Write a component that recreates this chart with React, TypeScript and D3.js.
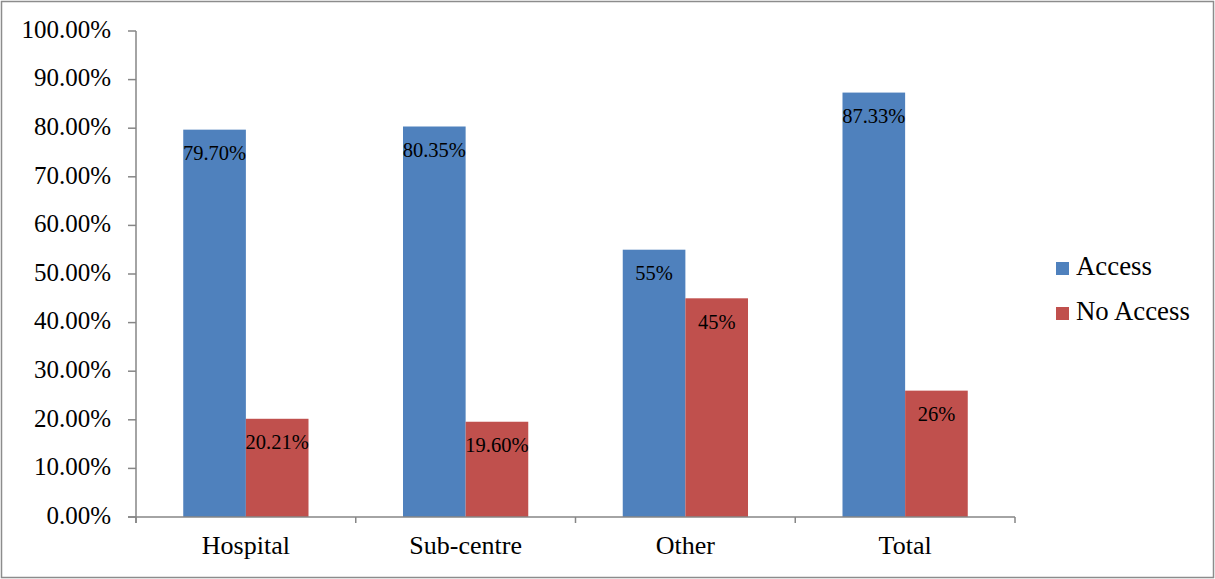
import React from "react";
import * as d3 from "d3";

const categories = ["Hospital", "Sub-centre", "Other", "Total"];
const seriesNames = ["Access", "No Access"];
const accessValues = [79.7, 80.35, 55, 87.33];
const noAccessValues = [20.21, 19.6, 45, 26];
const accessLabels = ["79.70%", "80.35%", "55%", "87.33%"];
const noAccessLabels = ["20.21%", "19.60%", "45%", "26%"];
const yTicks = [0, 10, 20, 30, 40, 50, 60, 70, 80, 90, 100];
const colors = ["#4F81BD", "#C0504D"];

const W = 1215;
const H = 579;
const left = 136;
const right = 1015;
const top = 31;
const bottom = 517;
const font = "'Liberation Serif', 'Times New Roman', serif";

export default function App() {
  const x0 = d3.scaleBand<string>().domain(categories).range([left, right]).paddingInner(0.43).paddingOuter(0.215);
  const x1 = d3.scaleBand<string>().domain(seriesNames).range([0, x0.bandwidth()]);
  const y = d3.scaleLinear().domain([0, 100]).range([bottom, top]);
  const step = (right - left) / categories.length;
  const series = [
    { name: seriesNames[0], values: accessValues, labels: accessLabels },
    { name: seriesNames[1], values: noAccessValues, labels: noAccessLabels },
  ];
  const axisColor = "#868686";
  return (
    <svg width={W} height={H} style={{ position: "absolute", left: 0, top: 0 }} fontFamily={font}>
      <rect x={0} y={0} width={W} height={H} fill="#fff" />
      <rect x={1.5} y={1.5} width={W - 3} height={H - 3} fill="none" stroke="#8c8c8c" strokeWidth={1.5} />
      {series.map((s, si) =>
        categories.map((c, ci) => {
          const bx = (x0(c) as number) + (x1(s.name) as number);
          const by = y(s.values[ci]);
          return (
            <g key={s.name + c}>
              <rect x={bx} y={by} width={x1.bandwidth()} height={bottom - by} fill={colors[si]} />
              <text x={bx + x1.bandwidth() / 2} y={by + 26} textAnchor="middle" dominantBaseline="middle" fontSize={20.5} fill="#000">
                {s.labels[ci]}
              </text>
            </g>
          );
        })
      )}
      {/* y axis */}
      <line x1={left} x2={left} y1={top} y2={bottom + 6} stroke={axisColor} strokeWidth={1.5} />
      {yTicks.map((t) => (
        <g key={t}>
          <line x1={left - 8} x2={left} y1={y(t)} y2={y(t)} stroke={axisColor} strokeWidth={1.5} />
          <text x={left - 25} y={y(t) + 1} textAnchor="end" dominantBaseline="middle" fontSize={25} fill="#000">
            {t.toFixed(2) + "%"}
          </text>
        </g>
      ))}
      {/* x axis */}
      <line x1={left - 8} x2={right} y1={bottom} y2={bottom} stroke={axisColor} strokeWidth={1.5} />
      {d3.range(categories.length + 1).map((i) => (
        <line key={i} x1={left + i * step} x2={left + i * step} y1={bottom} y2={bottom + 6} stroke={axisColor} strokeWidth={1.5} />
      ))}
      {categories.map((c) => (
        <text key={c} x={(x0(c) as number) + x0.bandwidth() / 2} y={548} textAnchor="middle" dominantBaseline="middle" fontSize={26} fill="#000">
          {c}
        </text>
      ))}
      {/* legend */}
      {seriesNames.map((n, i) => (
        <g key={n} transform={`translate(1056, ${268 + i * 45})`}>
          <rect x={0} y={-6} width={13} height={13} fill={colors[i]} />
          <text x={20} y={1} dominantBaseline="middle" fontSize={26.8} fill="#000">
            {n}
          </text>
        </g>
      ))}
    </svg>
  );
}
